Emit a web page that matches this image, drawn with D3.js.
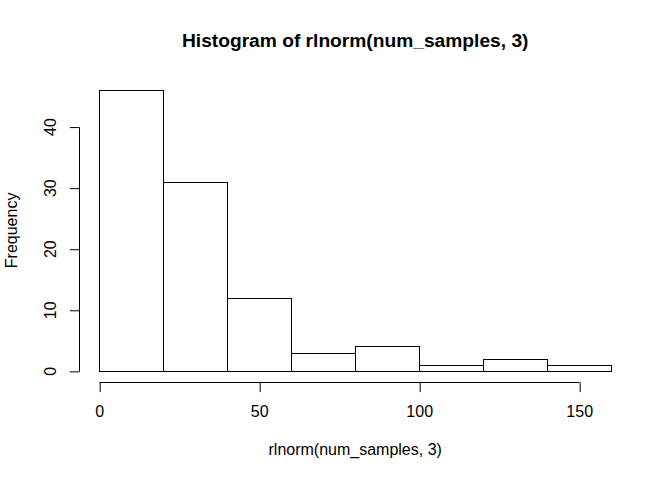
<!DOCTYPE html>
<html>
<head>
<meta charset="utf-8">
<script src="https://cdn.jsdelivr.net/npm/d3@7/dist/d3.min.js"></script>
<style>
  html, body { margin: 0; padding: 0; background: #fff; }
  svg { display: block; }
  text { font-family: "Liberation Sans", Arial, Helvetica, sans-serif; fill: #000; }
</style>
</head>
<body>
<svg id="chart" width="672" height="480"></svg>
<script>
// Data
const breaks = [0, 20, 40, 60, 80, 100, 120, 140, 160];
const counts = [46, 31, 12, 3, 4, 1, 2, 1];
const xTicks = [0, 50, 100, 150];
const yTicks = [0, 10, 20, 30, 40];
const titleText = "Histogram of rlnorm(num_samples, 3)";
const xLabel = "rlnorm(num_samples, 3)";
const yLabel = "Frequency";

const W = 672, H = 480;
const lh = 19.2; // R line height
const mar = { bottom: 5.1 * lh, left: 4.1 * lh, top: 4.1 * lh, right: 2.1 * lh };
const plotL = mar.left, plotR = W - mar.right, plotT = mar.top, plotB = H - mar.bottom;

const xmin = d3.min(breaks), xmax = d3.max(breaks);
const ymax = d3.max(counts);
const xe = (xmax - xmin) * 0.04, ye = ymax * 0.04;

const x = d3.scaleLinear().domain([xmin - xe, xmax + xe]).range([plotL, plotR]);
const y = d3.scaleLinear().domain([0 - ye, ymax + ye]).range([plotB, plotT]);

const svg = d3.select("#chart");

const bins = counts.map((c, i) => ({ x0: breaks[i], x1: breaks[i + 1], c }));

// Bars
svg.append("g")
  .selectAll("rect")
  .data(bins)
  .join("rect")
  .attr("x", d => Math.round(x(d.x0)) + 0.5)
  .attr("y", d => Math.round(y(d.c)) + 0.5)
  .attr("width", d => Math.round(x(d.x1)) - Math.round(x(d.x0)))
  .attr("height", d => Math.round(y(0)) - Math.round(y(d.c)))
  .attr("fill", "none")
  .attr("stroke", "#000")
  .attr("stroke-width", 1);

const tick = 0.5 * lh;

// X axis
const axY = Math.round(plotB) + 0.5;
const gx = svg.append("g").attr("transform", `translate(0,${axY})`)
  .call(d3.axisBottom(x).tickValues(xTicks).tickSize(tick).tickSizeOuter(0).tickFormat(d3.format("d")));
gx.select(".domain").remove();
gx.selectAll(".tick line").attr("stroke", "#000").attr("transform", "translate(0.5,0)");
gx.selectAll(".tick text")
  .attr("y", 1.8 * lh).attr("dy", 0)
  .attr("font-size", 16).attr("fill", "#000")
  .attr("font-family", '"Liberation Sans", Arial, sans-serif');
gx.append("line")
  .attr("x1", Math.round(x(xTicks[0])) + 0.5).attr("x2", Math.round(x(xTicks[xTicks.length - 1])) + 0.5)
  .attr("y1", 0).attr("y2", 0).attr("stroke", "#000");

// Y axis
const axX = Math.round(plotL) + 0.5;
const gy = svg.append("g").attr("transform", `translate(${axX},0)`)
  .call(d3.axisLeft(y).tickValues(yTicks).tickSize(tick).tickSizeOuter(0).tickFormat(d3.format("d")));
gy.select(".domain").remove();
gy.selectAll(".tick line").attr("stroke", "#000").attr("transform", "translate(0,0.5)");
gy.selectAll(".tick text")
  .attr("x", 0).attr("dy", 0)
  .attr("transform", `translate(${-1.2 * lh},0) rotate(-90)`)
  .attr("text-anchor", "middle")
  .attr("font-size", 16).attr("fill", "#000")
  .attr("font-family", '"Liberation Sans", Arial, sans-serif');
gy.append("line")
  .attr("x1", 0).attr("x2", 0)
  .attr("y1", Math.round(y(yTicks[0])) + 0.5).attr("y2", Math.round(y(yTicks[yTicks.length - 1])) + 0.5)
  .attr("stroke", "#000");

const cx = (plotL + plotR) / 2, cy = (plotT + plotB) / 2;

// Title
svg.append("text")
  .attr("x", cx).attr("y", 47)
  .attr("text-anchor", "middle")
  .attr("font-size", 19.2).attr("font-weight", "bold")
  .text(titleText);

// X label
svg.append("text")
  .attr("x", cx).attr("y", plotB + 3.8 * lh)
  .attr("text-anchor", "middle")
  .attr("font-size", 16)
  .text(xLabel);

// Y label
svg.append("text")
  .attr("transform", `translate(${plotL - 3.2 * lh},${cy}) rotate(-90)`)
  .attr("text-anchor", "middle")
  .attr("font-size", 16)
  .text(yLabel);
</script>
</body>
</html>
